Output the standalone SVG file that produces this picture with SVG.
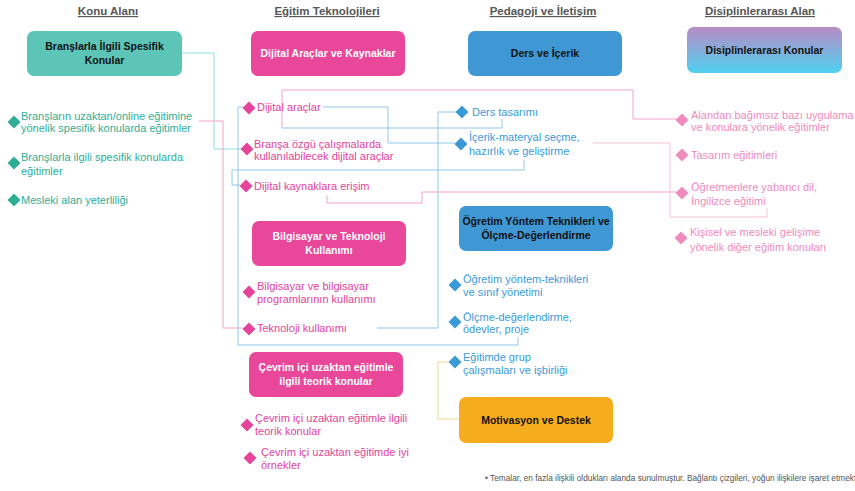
<svg xmlns="http://www.w3.org/2000/svg" xmlns:xlink="http://www.w3.org/1999/xlink" width="855" height="491" viewBox="0 0 855 491">
<style>
text{font-family:"Liberation Sans",Arial,sans-serif}
.hd{font-size:11.5px;font-weight:bold;fill:#555;text-decoration:underline;text-anchor:middle}
.bx{font-size:10.5px;font-weight:bold;text-anchor:middle}
.wt{fill:#fff}
.bk{fill:#111}
.it{font-size:11px}
.tl{fill:#2fae97}
.pk{fill:#e4449a}
.bl{fill:#3a9ad8}
.lp{fill:#ef8bbd}
.c{fill:none;stroke-width:1}
.cb{stroke:#8fc7ec}
.ct{stroke:#95dbe4}
.cp{stroke:#f2a6ca}
.cl{stroke:#f6c3da}
.co{stroke:#f7d593}
.ft{font-size:8.3px;fill:#555}
</style>
<defs>
<path id="d" d="M0,-6.5 L6.5,0 L0,6.5 L-6.5,0Z"/>
<linearGradient id="g" x1="0" y1="0" x2="0" y2="1">
<stop offset="0" stop-color="#b98bc6"/>
<stop offset="1" stop-color="#4fd1f0"/>
</linearGradient>
</defs>
<rect width="855" height="491" fill="#fff"/>

<g id="headers">
<text class="hd" x="108" y="15">Konu Alanı</text>
<text class="hd" x="327" y="15">Eğitim Teknolojileri</text>
<text class="hd" x="543" y="15">Pedagoji ve İletişim</text>
<text class="hd" x="760" y="15">Disiplinlerarası Alan</text>
</g>

<g id="connectors">
<polyline class="c ct" points="182,53 214,53 214,149 242,149"/>
<polyline class="c cp" points="199,121 223,121 223,328 243,328"/>
<polyline class="c cb" points="243,107 238,107 238,345 518,345 518,337"/>
<polyline class="c cb" points="323,107 388,107 388,143 455,143"/>
<polyline class="c cp" points="282,128 282,90 633,90 633,119 677,119"/>
<polyline class="c cb" points="282,128 502,128 502,119"/>
<polyline class="c cb" points="240,185 232,185 232,170 524,170 524,160"/>
<polyline class="c cp" points="327,195 327,203 422,203 422,192 677,192"/>
<polyline class="c cl" points="593,143 670,143 670,217 767,217 767,208"/>
<polyline class="c cb" points="456,112 438,112 438,328 377,328"/>
<polyline class="c co" points="450,362 438,362 438,419 459,419"/>
</g>

<g id="n-branslar">
<rect x="27" y="31" width="155" height="45" rx="7" fill="#5cc5b8"/>
<text class="bx bk" x="104.5" y="50">Branşlarla İlgili Spesifik</text>
<text class="bx bk" x="104.5" y="64">Konular</text>
</g>
<g id="n-dijital">
<rect x="251" y="31" width="154" height="45" rx="7" fill="#e9479a"/>
<text class="bx wt" x="328" y="57">Dijital Araçlar ve Kaynaklar</text>
</g>
<g id="n-ders">
<rect x="468" y="31" width="154" height="45" rx="7" fill="#3f97d4"/>
<text class="bx bk" x="545" y="57">Ders ve İçerik</text>
</g>
<g id="n-disiplin">
<rect x="687" y="27" width="155" height="46" rx="7" fill="url(#g)"/>
<text class="bx bk" x="764.5" y="54">Disiplinlerarası Konular</text>
</g>
<g id="n-bilgisayar">
<rect x="252" y="221" width="154" height="45" rx="7" fill="#e9479a"/>
<text class="bx wt" x="329" y="240">Bilgisayar ve Teknoloji</text>
<text class="bx wt" x="329" y="254">Kullanımı</text>
</g>
<g id="n-ogretim">
<rect x="459" y="206" width="154" height="45" rx="7" fill="#3f97d4"/>
<text class="bx bk" x="536" y="225">Öğretim Yöntem Teknikleri ve</text>
<text class="bx bk" x="536" y="239">Ölçme-Değerlendirme</text>
</g>
<g id="n-cevrim">
<rect x="249" y="352" width="154" height="45" rx="7" fill="#e9479a"/>
<text class="bx wt" x="326" y="371">Çevrim içi uzaktan eğitimle</text>
<text class="bx wt" x="326" y="385">ilgili teorik konular</text>
</g>
<g id="n-motivasyon">
<rect x="459" y="397" width="154" height="46" rx="7" fill="#f5ad1d"/>
<text class="bx bk" x="536" y="424">Motivasyon ve Destek</text>
</g>

<g id="i-t1"><use xlink:href="#d" x="14" y="122" class="tl"/>
<text class="it tl" x="21" y="120">Branşların uzaktan/online  eğitimine</text>
<text class="it tl" x="21" y="132">yönelik spesifik konularda eğitimler</text></g>
<g id="i-t2"><use xlink:href="#d" x="14" y="163" class="tl"/>
<text class="it tl" x="21" y="161">Branşlarla ilgili spesifik konularda</text>
<text class="it tl" x="21" y="175">eğitimler</text></g>
<g id="i-t3"><use xlink:href="#d" x="14" y="200" class="tl"/>
<text class="it tl" x="21" y="204">Mesleki alan yeterliliği</text></g>

<g id="i-p1"><use xlink:href="#d" x="249" y="108" class="pk"/>
<text class="it pk" x="257" y="111">Dijital araçlar</text></g>
<g id="i-p2"><use xlink:href="#d" x="247" y="149" class="pk"/>
<text class="it pk" x="254" y="148">Branşa özgü çalışmalarda</text>
<text class="it pk" x="254" y="160">kullanılabilecek dijital araçlar</text></g>
<g id="i-p3"><use xlink:href="#d" x="246" y="186" class="pk"/>
<text class="it pk" x="254" y="190">Dijital kaynaklara erişim</text></g>
<g id="i-p4"><use xlink:href="#d" x="249" y="292" class="pk"/>
<text class="it pk" x="257" y="290">Bilgisayar ve bilgisayar</text>
<text class="it pk" x="257" y="303">programlarının kullanımı</text></g>
<g id="i-p5"><use xlink:href="#d" x="249" y="329" class="pk"/>
<text class="it pk" x="257" y="332">Teknoloji kullanımı</text></g>
<g id="i-p6"><use xlink:href="#d" x="247" y="425" class="pk"/>
<text class="it pk" x="255" y="422">Çevrim içi uzaktan eğitimle ilgili</text>
<text class="it pk" x="255" y="435">teorik konular</text></g>
<g id="i-p7"><use xlink:href="#d" x="250" y="458" class="pk"/>
<text class="it pk" x="261" y="456">Çevrim içi uzaktan eğitimde iyi</text>
<text class="it pk" x="261" y="469">örnekler</text></g>

<g id="i-b1"><use xlink:href="#d" x="462" y="112" class="bl"/>
<text class="it bl" x="472" y="116">Ders tasarımı</text></g>
<g id="i-b2"><use xlink:href="#d" x="461" y="144" class="bl"/>
<text class="it bl" x="469" y="141">İçerik-materyal seçme,</text>
<text class="it bl" x="469" y="155">hazırlık ve geliştirme</text></g>
<g id="i-b3"><use xlink:href="#d" x="455" y="285" class="bl"/>
<text class="it bl" x="463" y="283">Öğretim yöntem-teknikleri</text>
<text class="it bl" x="463" y="296">ve sınıf yönetimi</text></g>
<g id="i-b4"><use xlink:href="#d" x="455" y="322" class="bl"/>
<text class="it bl" x="463" y="321">Ölçme-değerlendirme,</text>
<text class="it bl" x="463" y="333">ödevler, proje</text></g>
<g id="i-b5"><use xlink:href="#d" x="455" y="362" class="bl"/>
<text class="it bl" x="463" y="361">Eğitimde grup</text>
<text class="it bl" x="463" y="374">çalışmaları ve işbirliği</text></g>

<g id="i-l1"><use xlink:href="#d" x="682" y="120" class="lp"/>
<text class="it lp" x="691" y="119">Alandan bağımsız bazı uygulama</text>
<text class="it lp" x="691" y="131">ve konulara yönelik eğitimler</text></g>
<g id="i-l2"><use xlink:href="#d" x="682" y="155" class="lp"/>
<text class="it lp" x="691" y="159">Tasarım eğitimleri</text></g>
<g id="i-l3"><use xlink:href="#d" x="682" y="193" class="lp"/>
<text class="it lp" x="691" y="191">Öğretmenlere yabancı dil,</text>
<text class="it lp" x="691" y="205">İngilizce eğitimi</text></g>
<g id="i-l4"><use xlink:href="#d" x="681" y="238" class="lp"/>
<text class="it lp" x="690" y="236">Kişisel ve mesleki gelişime</text>
<text class="it lp" x="690" y="251">yönelik diğer eğitim konuları</text></g>

<g id="footnote">
<text class="ft" x="485" y="481">•  Temalar, en fazla ilişkili oldukları alanda sunulmuştur. Bağlantı çizgileri, yoğun ilişkilere işaret etmekt</text>
</g>
</svg>
